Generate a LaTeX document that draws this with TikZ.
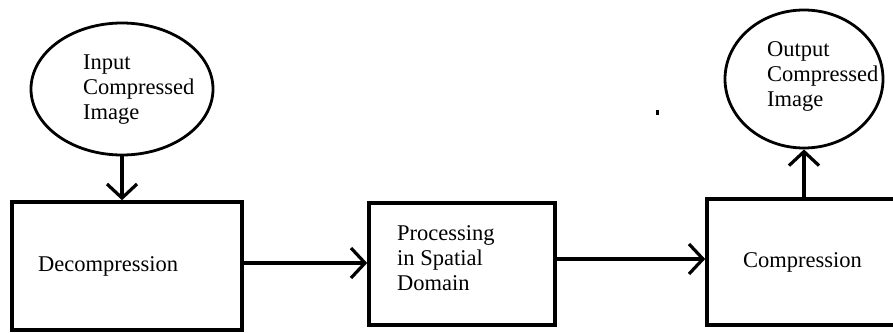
\documentclass[tikz,border=0pt]{standalone}
\usepackage{fontspec}
\setmainfont{Liberation Serif}
\usetikzlibrary{shapes.geometric,arrows.meta}

\tikzset{
  stagebox/.style={draw, line width=3.6pt, rectangle, inner sep=0pt},
  imagenode/.style={draw, line width=2.8pt, ellipse, inner sep=0pt},
  label text/.style={font=\fontsize{22.5}{25}\selectfont, anchor=base west, inner sep=0pt, align=left},
  flow/.style={line width=3.2pt, -{Straight Barb[length=14pt, width=30pt]}},
}

\begin{document}
\begin{tikzpicture}[x=1pt, y=-1pt]
  \useasboundingbox (0,0) rectangle (893,332);
  \clip (0,0) rectangle (893,332);
  \fill[white] (0,0) rectangle (893,332);

  % image inputs / outputs
  \node[imagenode, minimum width=182pt, minimum height=132pt] (in) at (122,89) {};
  \node[imagenode, minimum width=158pt, minimum height=138pt] (out) at (804,79) {};

  % processing stages
  \node[stagebox, minimum width=230pt, minimum height=128pt] (dec) at (127,266) {};
  \node[stagebox, minimum width=186pt, minimum height=122pt] (proc) at (462,264) {};
  \node[stagebox, minimum width=198pt, minimum height=126pt] (comp) at (806,262) {};

  % labels (base anchor sits on the last line)
  \node[label text] (tin) at (83,119) {Input\\Compressed\\Image};
  \node[label text] (tout) at (767,106) {Output\\Compressed\\Image};
  \node[label text] (tdec) at (38,271) {Decompression};
  \node[label text] (tproc) at (397,290) {Processing\\in Spatial\\Domain};
  \node[label text] (tcomp) at (743,267) {Compression};

  % stray mark
  \fill (655.5,110) rectangle (658.5,115);

  % connectors
  \draw[flow] (in.south) -- (in.south |- dec.north);
  \draw[flow] (dec.east |- 0,263) -- (proc.west |- 0,263);
  \draw[flow] (proc.east |- 0,259) -- (comp.west |- 0,259);
  \draw[flow] (out.south |- comp.north) -- (out.south);
\end{tikzpicture}
\end{document}
